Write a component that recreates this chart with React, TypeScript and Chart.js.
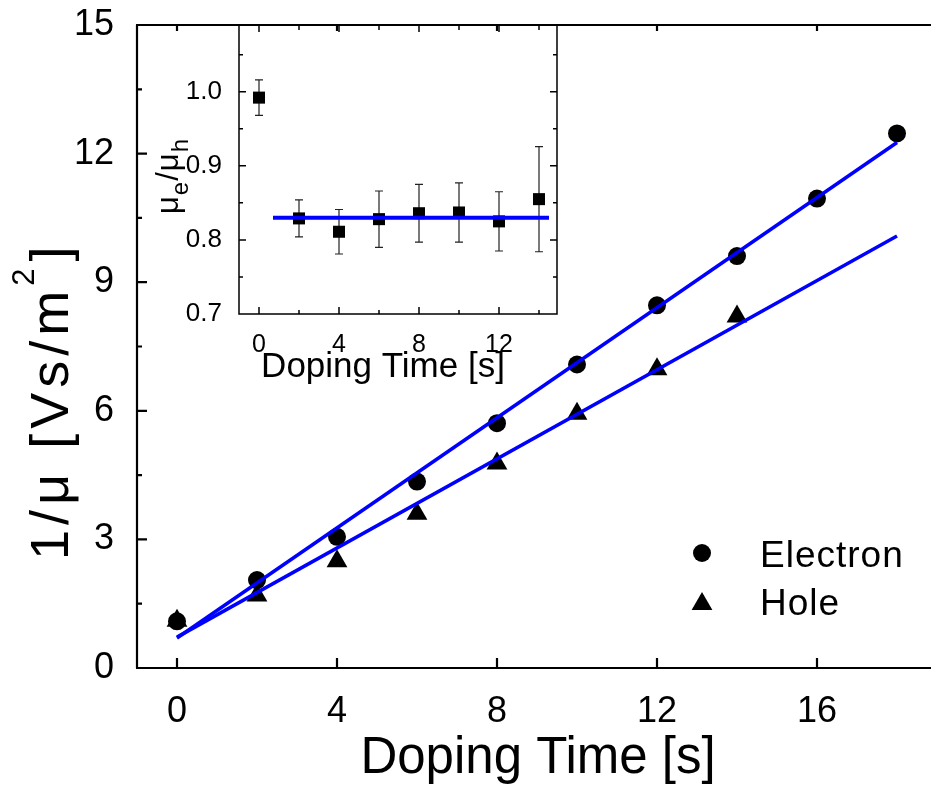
import React, { useEffect, useRef } from "react";
import { Chart, registerables } from "chart.js";

Chart.register(...registerables);

// ---------- main chart data ----------
const electronTime = [0, 2, 4, 6, 8, 10, 12, 14, 16, 18];
const electronInv = [1.09, 2.05, 3.06, 4.35, 5.71, 7.08, 8.46, 9.61, 10.95, 12.47];
const holeTime = [0, 2, 4, 6, 8, 10, 12, 14];
const holeInv = [1.1, 1.69, 2.49, 3.6, 4.77, 5.93, 6.97, 8.2];
const electronFitTime = [0, 18];
const electronFitInv = [0.7, 12.26];
const holeFitTime = [0, 18];
const holeFitInv = [0.72, 10.08];

// ---------- inset data ----------
const ratioTime = [0, 2, 4, 6, 8, 10, 12, 14];
const ratioValue = [0.992, 0.829, 0.811, 0.828, 0.836, 0.837, 0.825, 0.855];
const ratioError = [0.024, 0.025, 0.03, 0.038, 0.039, 0.04, 0.04, 0.071];
const ratioFitTime = [0.7, 14.5];
const ratioFitValue = [0.83, 0.83];

// ---------- ticks ----------
const mainXTicks = [0, 4, 8, 12, 16];
const mainYTicks = [0, 3, 6, 9, 12, 15];
const mainYMinor = [1.5, 4.5, 7.5, 10.5, 13.5];
const insetXTicks = [0, 4, 8, 12];
const insetXMinor = [2, 6, 10, 14];
const insetYTicks = [0.7, 0.8, 0.9, 1.0];
const insetYMinor = [0.75, 0.85, 0.95, 1.05];

const legendLabels = ["Electron", "Hole"];
const FONT = "'Liberation Sans', Arial, Helvetica, sans-serif";
const BLUE = "#0000FF";

const toPts = (xs: number[], ys: number[]) => xs.map((x, i) => ({ x, y: ys[i] }));

function seg(ctx: CanvasRenderingContext2D, x1: number, y1: number, x2: number, y2: number) {
  ctx.moveTo(x1, y1);
  ctx.lineTo(x2, y2);
}

const zeroPad = (s: any) => {
  s.paddingTop = 0;
  s.paddingBottom = 0;
  s.paddingLeft = 0;
  s.paddingRight = 0;
};

const mainDecor = {
  id: "mainDecor",
  afterDraw(chart: any) {
    const { ctx, chartArea: a, scales } = chart;
    const x = scales.x;
    const y = scales.y;
    ctx.save();
    ctx.strokeStyle = "#000";
    ctx.lineWidth = 2.2;
    ctx.beginPath();
    seg(ctx, a.left, a.top, a.left, a.bottom);
    seg(ctx, a.left - 1, a.bottom, a.right, a.bottom);
    seg(ctx, a.left - 1, a.top, a.right, a.top);
    mainYTicks.forEach((v) => {
      const p = y.getPixelForValue(v);
      seg(ctx, a.left, p, a.left + 10, p);
    });
    mainYMinor.forEach((v) => {
      const p = y.getPixelForValue(v);
      seg(ctx, a.left, p, a.left + 5, p);
    });
    mainXTicks.forEach((v) => {
      const p = x.getPixelForValue(v);
      seg(ctx, p, a.bottom, p, a.bottom - 10);
      seg(ctx, p, a.top, p, a.top + 6);
    });
    ctx.stroke();

    // axis titles
    ctx.fillStyle = "#000";
    ctx.font = `51px ${FONT}`;
    ctx.textAlign = "center";
    ctx.textBaseline = "alphabetic";
    ctx.fillText("Doping Time [s]", 538, 773);

    ctx.save();
    ctx.translate(68, 560);
    ctx.rotate(-Math.PI / 2);
    ctx.textAlign = "left";
    (ctx as any).letterSpacing = "5px";
    ctx.font = `54px ${FONT}`;
    const t1 = "1/\u03bc [Vs/m";
    ctx.fillText(t1, 0, 0);
    const w1 = ctx.measureText(t1).width;
    ctx.font = `31px ${FONT}`;
    ctx.fillText("2", w1, -34);
    const w2 = ctx.measureText("2").width;
    ctx.font = `54px ${FONT}`;
    ctx.fillText("]", w1 + w2 + 2, 0);
    ctx.restore();

    // legend
    const lx = 702;
    ctx.beginPath();
    ctx.arc(lx, 553, 9, 0, Math.PI * 2);
    ctx.fill();
    const r = 12;
    const cy = 604;
    ctx.beginPath();
    ctx.moveTo(lx, cy - r);
    ctx.lineTo(lx + r * Math.sin((2 * Math.PI) / 3), cy + r / 2);
    ctx.lineTo(lx - r * Math.sin((2 * Math.PI) / 3), cy + r / 2);
    ctx.closePath();
    ctx.fill();
    ctx.font = `37px ${FONT}`;
    (ctx as any).letterSpacing = "1px";
    ctx.textAlign = "left";
    ctx.fillText(legendLabels[0], 760, 567);
    ctx.fillText(legendLabels[1], 760, 615);
    ctx.restore();
  },
};

const insetDecor = {
  id: "insetDecor",
  beforeDatasetsDraw(chart: any) {
    const { ctx, scales } = chart;
    const x = scales.x;
    const y = scales.y;
    ctx.save();
    ctx.strokeStyle = "#222";
    ctx.lineWidth = 1.2;
    ctx.beginPath();
    ratioTime.forEach((t, i) => {
      const px = x.getPixelForValue(t);
      const top = y.getPixelForValue(ratioValue[i] + ratioError[i]);
      const bot = y.getPixelForValue(ratioValue[i] - ratioError[i]);
      seg(ctx, px, top, px, bot);
      seg(ctx, px - 4, top, px + 4, top);
      seg(ctx, px - 4, bot, px + 4, bot);
    });
    ctx.stroke();
    ctx.restore();
  },
  afterDraw(chart: any) {
    const { ctx, chartArea: a, scales } = chart;
    const x = scales.x;
    const y = scales.y;
    ctx.save();
    ctx.strokeStyle = "#000";
    ctx.lineWidth = 1.5;
    ctx.beginPath();
    ctx.rect(a.left, a.top, a.right - a.left, a.bottom - a.top);
    insetYTicks.forEach((v) => {
      const p = y.getPixelForValue(v);
      seg(ctx, a.left, p, a.left + 7, p);
      seg(ctx, a.right, p, a.right - 7, p);
    });
    insetYMinor.forEach((v) => {
      const p = y.getPixelForValue(v);
      seg(ctx, a.left, p, a.left + 4, p);
      seg(ctx, a.right, p, a.right - 4, p);
    });
    insetXTicks.forEach((v) => {
      const p = x.getPixelForValue(v);
      seg(ctx, p, a.bottom, p, a.bottom - 7);
      seg(ctx, p, a.top, p, a.top + 7);
    });
    insetXMinor.forEach((v) => {
      const p = x.getPixelForValue(v);
      seg(ctx, p, a.bottom, p, a.bottom - 4);
      seg(ctx, p, a.top, p, a.top + 5);
    });
    ctx.stroke();

    ctx.fillStyle = "#000";
    ctx.font = `35px ${FONT}`;
    ctx.textAlign = "center";
    ctx.textBaseline = "alphabetic";
    ctx.fillText("Doping Time [s]", 383, 377);

    ctx.save();
    ctx.translate(178, 214);
    ctx.rotate(-Math.PI / 2);
    ctx.textAlign = "left";
    (ctx as any).letterSpacing = "1px";
    const parts: [string, number, number][] = [
      ["\u03bc", 31, 0],
      ["e", 24, 10],
      ["/", 31, 0],
      ["\u03bc", 31, 0],
      ["h", 24, 10],
    ];
    let off = 0;
    parts.forEach(([t, size, dy]) => {
      ctx.font = `${size}px ${FONT}`;
      ctx.fillText(t, off, dy);
      off += ctx.measureText(t).width;
    });
    ctx.restore();
    ctx.restore();
  },
};

export default function App() {
  const mainRef = useRef<HTMLCanvasElement | null>(null);
  const insetRef = useRef<HTMLCanvasElement | null>(null);

  useEffect(() => {
    const main = new Chart(mainRef.current as HTMLCanvasElement, {
      type: "scatter",
      data: {
        datasets: [
          {
            label: "Electron fit",
            data: toPts(electronFitTime, electronFitInv),
            showLine: true,
            borderColor: BLUE,
            borderWidth: 3.5,
            pointRadius: 0,
          },
          {
            label: "Hole fit",
            data: toPts(holeFitTime, holeFitInv),
            showLine: true,
            borderColor: BLUE,
            borderWidth: 3.5,
            pointRadius: 0,
          },
          {
            label: legendLabels[0],
            data: toPts(electronTime, electronInv),
            pointStyle: "circle",
            pointRadius: 9,
            backgroundColor: "#000",
            borderWidth: 0,
          },
          {
            label: legendLabels[1],
            data: toPts(holeTime, holeInv),
            pointStyle: "triangle",
            pointRadius: 12,
            backgroundColor: "#000",
            borderWidth: 0,
          },
        ],
      },
      options: {
        responsive: false,
        maintainAspectRatio: false,
        animation: false,
        devicePixelRatio: 1,
        layout: { padding: { top: 25, right: 0, left: 0, bottom: 0 } },
        plugins: { legend: { display: false }, tooltip: { enabled: false } },
        scales: {
          x: {
            type: "linear",
            min: -1,
            max: 18.85,
            grid: { display: false },
            border: { display: false },
            afterBuildTicks: (s: any) => {
              s.ticks = mainXTicks.map((v) => ({ value: v }));
            },
            afterFit: (s: any) => {
              s.height = 117;
              zeroPad(s);
            },
            ticks: {
              color: "#000",
              font: { family: FONT, size: 36 },
              padding: 14,
              maxRotation: 0,
              callback: (v: any) => String(v),
            },
          },
          y: {
            type: "linear",
            min: 0,
            max: 15,
            grid: { display: false },
            border: { display: false },
            afterBuildTicks: (s: any) => {
              s.ticks = mainYTicks.map((v) => ({ value: v }));
            },
            afterFit: (s: any) => {
              s.width = 137;
              zeroPad(s);
            },
            ticks: {
              color: "#000",
              font: { family: FONT, size: 36 },
              padding: 15,
              callback: (v: any) => String(v),
            },
          },
        },
      },
      plugins: [mainDecor],
    } as any);

    const inset = new Chart(insetRef.current as HTMLCanvasElement, {
      type: "scatter",
      data: {
        datasets: [
          {
            label: "Ratio fit",
            data: toPts(ratioFitTime, ratioFitValue),
            showLine: true,
            borderColor: BLUE,
            borderWidth: 4,
            pointRadius: 0,
          },
          {
            label: "Ratio",
            data: toPts(ratioTime, ratioValue),
            pointStyle: "rect",
            pointRadius: 8.5,
            backgroundColor: "#000",
            borderWidth: 0,
          },
        ],
      },
      options: {
        responsive: false,
        maintainAspectRatio: false,
        animation: false,
        devicePixelRatio: 1,
        layout: { padding: { top: 25, right: 43, left: 0, bottom: 0 } },
        plugins: { legend: { display: false }, tooltip: { enabled: false } },
        scales: {
          x: {
            type: "linear",
            min: -1,
            max: 14.9,
            grid: { display: false },
            border: { display: false },
            afterBuildTicks: (s: any) => {
              s.ticks = insetXTicks.map((v) => ({ value: v }));
            },
            afterFit: (s: any) => {
              s.height = 106;
              zeroPad(s);
            },
            ticks: {
              color: "#000",
              font: { family: FONT, size: 25 },
              padding: 8,
              maxRotation: 0,
              callback: (v: any) => String(v),
            },
          },
          y: {
            type: "linear",
            min: 0.7,
            max: 1.09,
            grid: { display: false },
            border: { display: false },
            afterBuildTicks: (s: any) => {
              s.ticks = insetYTicks.map((v) => ({ value: v }));
            },
            afterFit: (s: any) => {
              s.width = 239;
              zeroPad(s);
            },
            ticks: {
              color: "#000",
              font: { family: FONT, size: 26 },
              padding: 9,
              callback: (v: any) => Number(v).toFixed(1),
            },
          },
        },
      },
      plugins: [insetDecor],
    } as any);

    return () => {
      main.destroy();
      inset.destroy();
    };
  }, []);

  return (
    <div style={{ position: "fixed", left: 0, top: 0, width: 943, height: 785, background: "#fff" }}>
      <canvas ref={mainRef} width={943} height={785} style={{ position: "absolute", left: 0, top: 0 }} />
      <canvas
        ref={insetRef}
        width={600}
        height={420}
        style={{ position: "absolute", left: 0, top: 0, pointerEvents: "none" }}
      />
    </div>
  );
}
